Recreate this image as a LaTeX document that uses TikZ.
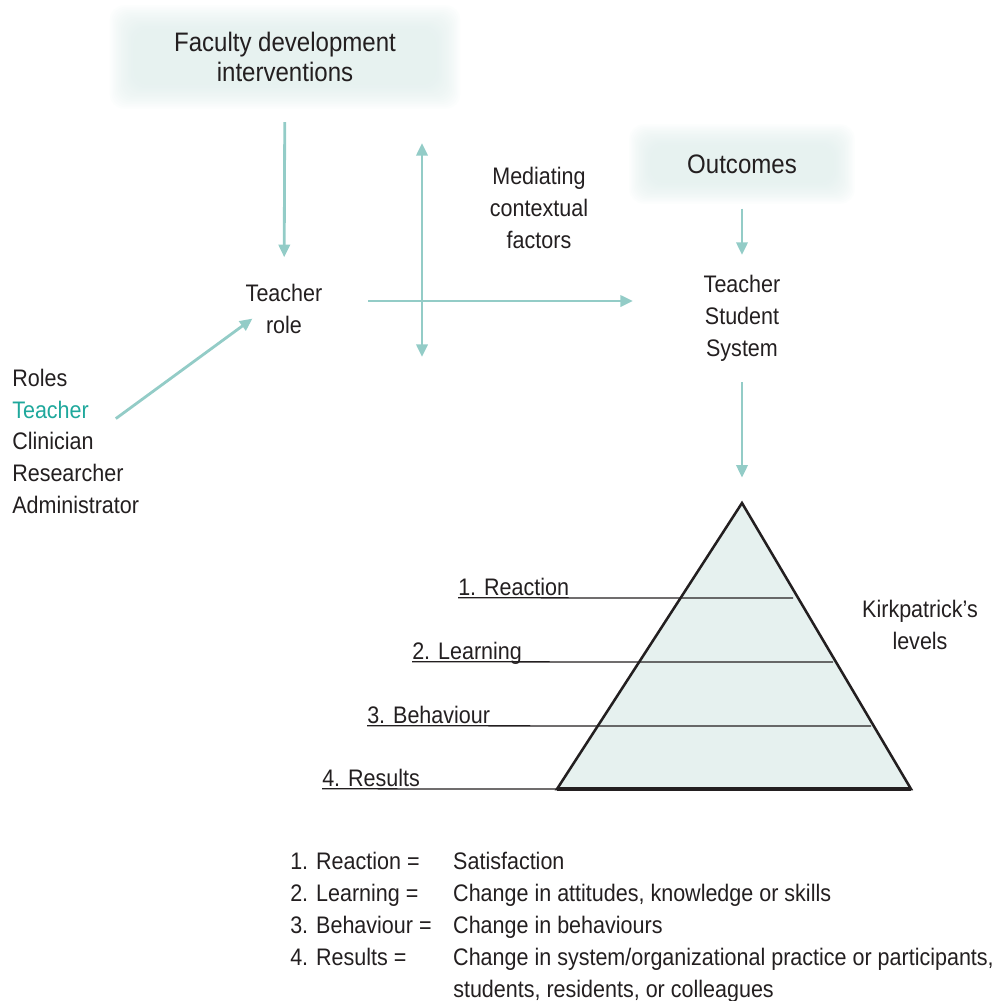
\documentclass[tikz,border=0pt]{standalone}
\usepackage{fontspec}
\setmainfont{Liberation Sans}[FakeStretch=0.9]
\usetikzlibrary{arrows.meta,backgrounds,positioning}
\definecolor{flowteal}{HTML}{93CCC7}
\definecolor{roleteal}{HTML}{1FA89C}
\definecolor{pyrfill}{HTML}{E6F1EF}
\definecolor{haze}{HTML}{DDECEA}
\definecolor{ink}{HTML}{231F20}

\begin{document}
\begin{tikzpicture}[x=0.025cm, y=-0.025cm, > = {Triangle[length=9pt,width=8pt]},
	txt/.style={font=\fontsize{17}{22.7}\selectfont, text=ink, align=center, inner sep=0pt},
	big/.style={font=\fontsize{19}{21.3}\selectfont, text=ink, align=center, inner sep=0pt},
	flow/.style={->, draw=flowteal, line width=2pt},
	]

	\useasboundingbox (0,0) rectangle (1001,1001);

	% boxes and texts
	\node[big, minimum width=8.75cm, minimum height=2.575cm] (fdi) at (285,57) {Faculty development\\interventions};
	\node[big, minimum width=5.625cm, minimum height=1.975cm] (outc) at (742,164) {Outcomes};
	\node[txt] (role) at (284,309) {Teacher\\role};
	\node[txt] (mcf) at (539,208) {Mediating\\contextual\\factors};
	\node[txt] (tss) at (742,318) {Teacher\\Student\\System};
	\node[txt] (kirk) at (920,625) {Kirkpatrick’s\\levels};

	\begin{scope}[on background layer]
		\foreach \i in {0,...,15} {
			\fill[haze, opacity=0.075, rounded corners=10pt] ([shift={(\i*1.6,\i*1.6)}]fdi.north west) rectangle ([shift={(-\i*1.6,-\i*1.6)}]fdi.south east);
			\fill[haze, opacity=0.075, rounded corners=10pt] ([shift={(\i*1.4,\i*1.4)}]outc.north west) rectangle ([shift={(-\i*1.4,-\i*1.4)}]outc.south east);
		}
	\end{scope}

	% roles list
	\node[txt, anchor=base west] (rhead) at (12,386) {Roles};
	\node[txt, anchor=base west, text=roleteal] (rteach) at (12,418) {Teacher};
	\node[txt, anchor=base west] (rclin) at (12,449) {Clinician};
	\node[txt, anchor=base west] (rres) at (12,481) {Researcher};
	\node[txt, anchor=base west] (radm) at (12,513) {Administrator};

	% arrows
	\draw[flow, shorten <=9.5pt, shorten >=19pt] (fdi) -- (role);
	\draw[flow] ([xshift=19pt, yshift=-6.5pt]rteach.east) -- ([xshift=5pt, yshift=11pt]role.south west);
	\coordinate (mtop) at (422,143);
	\coordinate (mbot) at (422,357);
	\coordinate (hstart) at (368,301);
	\coordinate (hend) at (633,301);
	\draw[flow, <->] (mtop) -- (mbot);
	\draw[flow] (hstart) -- (hend);
	\draw[flow, shorten <=3.5pt, shorten >=14pt] (outc) -- (tss);

	% pyramid
	\coordinate (apex) at (742,503);
	\coordinate (bl) at (557,789);
	\coordinate (br) at (911,789);
	\draw[flow, shorten <=15pt, shorten >=18pt] (tss) -- (apex);
	\filldraw[fill=pyrfill, draw=ink, line width=1.8pt] (bl) -- (apex) -- (br) -- cycle;

	\foreach \lab/\name/\y/\xl/\xr in {1. Reaction/lvla/598/458/793, 2. Learning/lvlb/662/412/833, 3. Behaviour/lvlc/726/367/871, 4. Results/lvld/789/322/557}
	{
		\node[txt, anchor=base west] (\name) at (\xl,\y-3) {\lab};
		\draw[ink, line width=0.9pt] ([yshift=-2pt]\name.base west) -- (\xr,\y);
	}
	\draw[ink, line width=2.6pt] (bl) -- (br);

	% legend
	\node[txt, anchor=north west, align=left] (legend) at (290,847) {%
		\begin{tabular}{@{}p{115.9pt}@{}l@{}}
			1. Reaction = & Satisfaction\\
			2. Learning = & Change in attitudes, knowledge or skills\\
			3. Behaviour = & Change in behaviours\\
			4. Results = & Change in system/organizational practice or participants,\\
			& students, residents, or colleagues
		\end{tabular}};

\end{tikzpicture}
\end{document}
